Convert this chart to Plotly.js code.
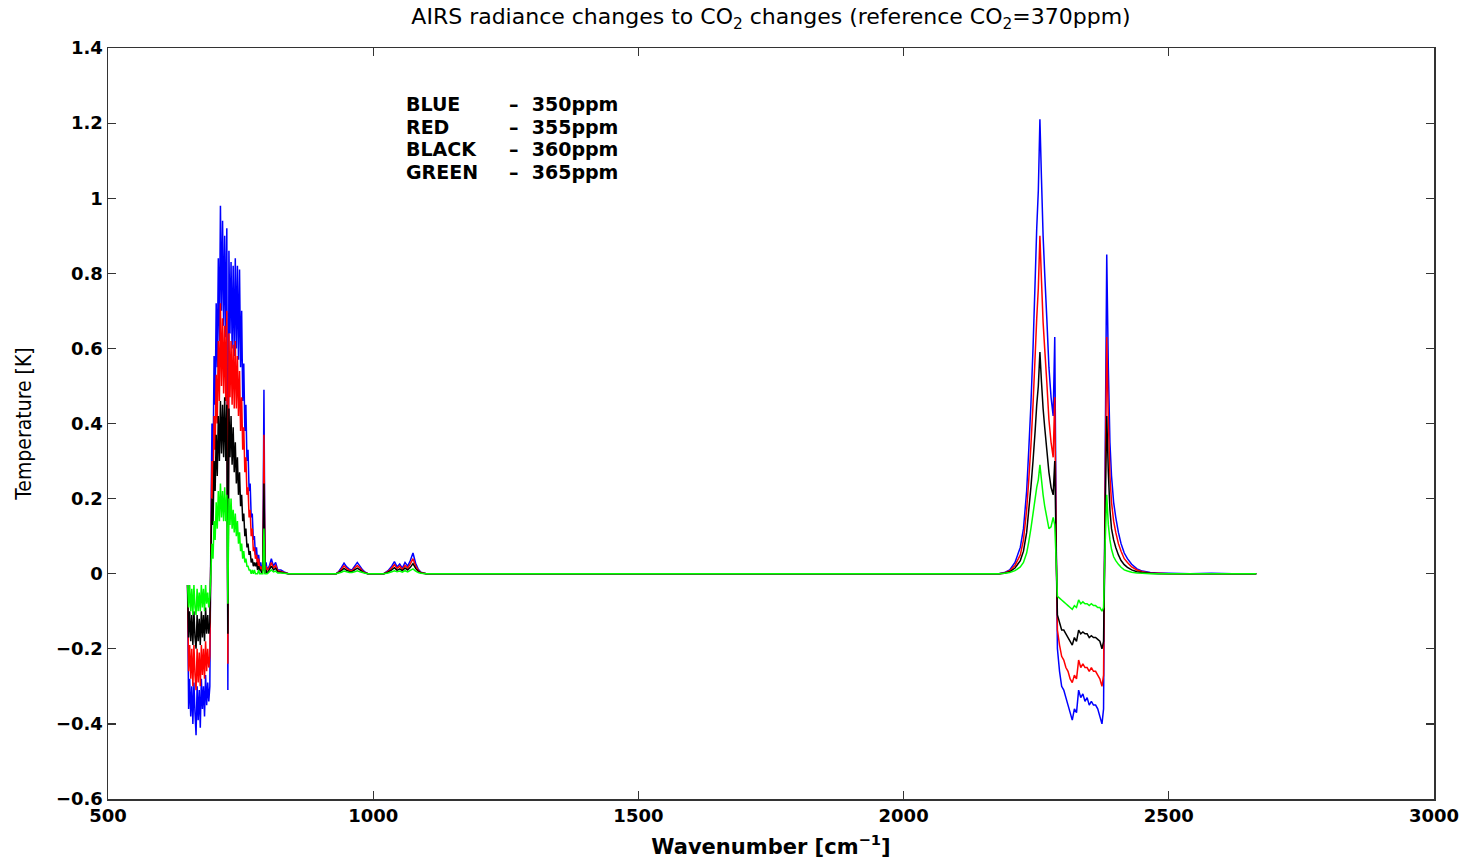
<!DOCTYPE html>
<html>
<head>
<meta charset="utf-8">
<script src="https://cdn.plot.ly/plotly-3.0.1.min.js"></script>
<style>
html,body{margin:0;padding:0;background:#fff;}
#chart{width:1467px;height:863px;}
</style>
</head>
<body>
<div id="chart"></div>
<script>
// ---------- DATA ----------
// Band 1: 650-800 cm-1 (CO2 15 micron band)
const wnBand1 = [650,652,654,656,658,660,662,664,666,668,670,672,674,676,678,680,682,684,686,688,
  690,692,694,696,698,700,702,704,706,708,710,712,714,716,718,720,722,724,726,728,
  730,732,734,736,738,740,742,744,746,748,750,752,754,756,758,760,762,764,766,768,
  770,772,774,776,778,780,782,784,786,788,790,792,794,796,798,800];
const blue350Band1 = [-0.03,-0.36,-0.28,-0.38,-0.30,-0.40,-0.29,-0.37,-0.43,-0.30,-0.39,-0.31,-0.41,-0.28,-0.36,-0.30,-0.38,-0.27,-0.35,-0.29,
  -0.34,-0.30,0.12,0.40,0.28,0.58,0.45,0.72,0.55,0.84,0.62,0.98,0.70,0.94,0.66,0.90,0.63,0.92,-0.31,0.86,
  0.64,0.83,0.60,0.82,0.58,0.84,0.60,0.82,0.57,0.81,0.55,0.70,0.46,0.56,0.38,0.45,0.30,0.33,0.22,0.24,
  0.15,0.16,0.09,0.10,0.05,0.07,0.03,0.05,0.02,0.03,0.01,0.02,0.49,0.01,0.03,0.01];
const red355Band1 = [-0.03,-0.26,-0.19,-0.28,-0.20,-0.30,-0.19,-0.27,-0.31,-0.20,-0.29,-0.21,-0.30,-0.19,-0.27,-0.20,-0.28,-0.18,-0.26,-0.20,
  -0.25,-0.22,0.08,0.30,0.20,0.42,0.33,0.53,0.40,0.62,0.46,0.72,0.50,0.68,0.48,0.66,0.46,0.70,-0.24,0.64,
  0.47,0.62,0.45,0.61,0.44,0.62,0.44,0.58,0.42,0.54,0.38,0.47,0.33,0.39,0.27,0.31,0.21,0.23,0.15,0.17,
  0.10,0.12,0.06,0.07,0.04,0.05,0.02,0.04,0.01,0.02,0.01,0.01,0.37,0.01,0.02,0.01];
const black360Band1 = [-0.03,-0.17,-0.10,-0.18,-0.11,-0.19,-0.10,-0.17,-0.20,-0.11,-0.18,-0.12,-0.19,-0.10,-0.17,-0.11,-0.18,-0.09,-0.16,-0.11,
  -0.16,-0.13,0.05,0.20,0.13,0.30,0.22,0.37,0.26,0.42,0.30,0.46,0.32,0.45,0.31,0.47,0.30,0.45,-0.16,0.44,
  0.31,0.42,0.29,0.39,0.27,0.35,0.24,0.31,0.21,0.27,0.18,0.21,0.14,0.16,0.10,0.12,0.07,0.08,0.05,0.06,
  0.03,0.04,0.02,0.03,0.02,0.03,0.01,0.02,0.01,0.01,0.00,0.01,0.24,0.00,0.01,0.00];
const green365Band1 = [-0.03,-0.09,-0.03,-0.10,-0.04,-0.11,-0.03,-0.09,-0.11,-0.04,-0.10,-0.05,-0.10,-0.03,-0.09,-0.04,-0.10,-0.03,-0.08,-0.05,
  -0.09,-0.06,0.00,0.08,0.04,0.14,0.09,0.19,0.12,0.22,0.14,0.24,0.15,0.22,0.14,0.23,0.14,0.21,-0.08,0.20,
  0.13,0.20,0.12,0.17,0.11,0.16,0.10,0.14,0.08,0.11,0.06,0.08,0.04,0.06,0.03,0.04,0.02,0.02,0.01,0.01,
  0.00,0.01,0.00,0.01,0.00,0.00,0.00,0.01,0.00,0.00,0.00,0.00,0.12,0.00,0.00,0.00];

// Band 2: 800-2170 cm-1 (window with small bumps)
const wnBand2 = [804,808,812,816,820,826,832,840,870,910,
  930,935,940,945,950,955,960,965,970,975,980,985,990,1000,
  1020,1028,1035,1040,1045,1050,1055,1060,1065,1070,1075,1080,1085,1090,1100,
  1150,1500,1900,2100,2170];
const blue350Band2 = [0.02,0.04,0.02,0.03,0.01,0.01,0.005,0,0,0,
  0,0.006,0.016,0.028,0.018,0.012,0.01,0.02,0.03,0.02,0.01,0.004,0,0,
  0,0.008,0.02,0.032,0.018,0.026,0.015,0.03,0.02,0.035,0.055,0.028,0.012,0.004,0,
  0,0,0,0,0];
const red355Band2 = [0.015,0.03,0.015,0.022,0.008,0.006,0.003,0,0,0,
  0,0.004,0.012,0.021,0.014,0.009,0.008,0.015,0.022,0.015,0.007,0.003,0,0,
  0,0.006,0.015,0.024,0.014,0.02,0.011,0.022,0.015,0.026,0.04,0.021,0.009,0.003,0,
  0,0,0,0,0];
const black360Band2 = [0.01,0.02,0.01,0.015,0.005,0.004,0.002,0,0,0,
  0,0.003,0.008,0.014,0.009,0.006,0.005,0.01,0.015,0.01,0.005,0.002,0,0,
  0,0.004,0.01,0.016,0.009,0.013,0.008,0.015,0.01,0.017,0.027,0.014,0.006,0.002,0,
  0,0,0,0,0];
const green365Band2 = [0.005,0.01,0.005,0.007,0.002,0.002,0.001,0,0,0,
  0,0.002,0.004,0.007,0.005,0.003,0.003,0.005,0.008,0.005,0.003,0.001,0,0,
  0,0.002,0.005,0.008,0.005,0.007,0.004,0.008,0.005,0.009,0.013,0.007,0.003,0.001,0,
  0,0,0,0,0];

// Band 3: 2180-2665 cm-1 (CO2 4.3 micron band)
const wnBand3 = [2180,2190,2200,2210,2220,2226,2232,2236,2240,2244,
  2248,2251,2254,2257,2260,2263,2266,2270,2274,2278,
  2282,2285,2288,
  2290,2294,2298,2302,2306,2310,2314,2318,2322,2326,
  2330,2334,2338,2342,2346,2350,2354,2358,2362,2366,
  2370,2374,2377,
  2380,2383,2386,2389,2392,2396,2400,2405,2410,2416,
  2422,2430,2440,2450,2465,2480,2500,2540,2580,2620,2665];
const blue350Band3 = [0,0.003,0.01,0.03,0.07,0.12,0.22,0.33,0.45,0.60,
  0.78,0.92,1.02,1.21,1.05,0.90,0.80,0.68,0.55,0.47,
  0.42,0.63,0.05,
  -0.20,-0.26,-0.30,-0.31,-0.33,-0.35,-0.37,-0.39,-0.36,-0.37,
  -0.31,-0.33,-0.32,-0.34,-0.33,-0.35,-0.34,-0.35,-0.35,-0.36,
  -0.38,-0.40,-0.36,
  0.30,0.85,0.55,0.35,0.26,0.19,0.15,0.11,0.08,0.055,
  0.04,0.025,0.013,0.007,0.003,0.002,0.001,0,0.001,0,0];
const red355Band3 = [0,0.002,0.008,0.022,0.05,0.09,0.17,0.25,0.34,0.45,
  0.58,0.68,0.76,0.90,0.78,0.67,0.60,0.51,0.41,0.35,
  0.31,0.47,0.04,
  -0.15,-0.19,-0.22,-0.23,-0.25,-0.26,-0.28,-0.29,-0.27,-0.28,
  -0.23,-0.25,-0.24,-0.25,-0.25,-0.26,-0.25,-0.26,-0.26,-0.27,
  -0.28,-0.30,-0.27,
  0.22,0.63,0.41,0.26,0.19,0.14,0.11,0.08,0.06,0.04,
  0.03,0.018,0.01,0.005,0.002,0.001,0,0,0,0,0];
const black360Band3 = [0,0.001,0.005,0.015,0.035,0.06,0.11,0.17,0.23,0.30,
  0.38,0.45,0.50,0.59,0.51,0.44,0.39,0.33,0.27,0.23,
  0.21,0.30,0.03,
  -0.11,-0.13,-0.15,-0.15,-0.16,-0.17,-0.18,-0.19,-0.17,-0.18,
  -0.15,-0.16,-0.155,-0.16,-0.16,-0.17,-0.165,-0.17,-0.17,-0.175,
  -0.18,-0.20,-0.18,
  0.15,0.42,0.27,0.17,0.12,0.09,0.07,0.05,0.035,0.024,
  0.017,0.01,0.005,0.003,0.001,0,0,0,0,0,0];
const green365Band3 = [0,0.001,0.003,0.008,0.018,0.03,0.055,0.085,0.12,0.16,
  0.20,0.23,0.25,0.29,0.25,0.21,0.18,0.15,0.12,0.125,
  0.15,0.13,0.02,
  -0.06,-0.065,-0.07,-0.075,-0.08,-0.085,-0.09,-0.095,-0.085,-0.09,
  -0.07,-0.08,-0.075,-0.08,-0.08,-0.085,-0.08,-0.085,-0.085,-0.09,
  -0.09,-0.10,-0.09,
  0.08,0.21,0.13,0.09,0.065,0.045,0.035,0.025,0.017,0.01,
  0.007,0.004,0.002,0.001,0,0,0,0,0,0,0];

const seriesNames = ['350ppm','355ppm','360ppm','365ppm'];
const seriesColors = ['#0000ff','#ff0000','#000000','#00ff00'];
const legendNames = ['BLUE','RED','BLACK','GREEN'];
const legendValues = ['\u2013  350ppm','\u2013  355ppm','\u2013  360ppm','\u2013  365ppm'];
const xTickVals = [500,1000,1500,2000,2500,3000];
const yTickVals = [-0.6,-0.4,-0.2,0,0.2,0.4,0.6,0.8,1,1.2,1.4];

// ---------- BUILD ----------
const wavenumber = wnBand1.concat(wnBand2, wnBand3);
const seriesValues = [
  blue350Band1.concat(blue350Band2, blue350Band3),
  red355Band1.concat(red355Band2, red355Band3),
  black360Band1.concat(black360Band2, black360Band3),
  green365Band1.concat(green365Band2, green365Band3)
];

const traces = seriesValues.map((vals, i) => ({
  type: 'scatter',
  mode: 'lines',
  name: seriesNames[i],
  x: wavenumber,
  y: vals,
  line: {color: seriesColors[i], width: 1.5, simplify: false},
  hoverinfo: 'skip'
}));

const fontFam = 'DejaVu Sans, sans-serif';
const tickFont = {family: fontFam, size: 18, color: '#000', weight: 'bold'};

// legend text block: one annotation per line (names column + values column)
const legendLineY = [0.9254, 0.8948, 0.8655, 0.8349];
const annotations = [];
legendNames.forEach((nm, i) => {
  annotations.push({xref: 'paper', yref: 'paper', x: 0.2232, y: legendLineY[i], xanchor: 'left', yanchor: 'middle',
    showarrow: false, text: nm, font: {family: fontFam, size: 19, color: '#000', weight: 'bold'}});
  annotations.push({xref: 'paper', yref: 'paper', x: 0.3009, y: legendLineY[i], xanchor: 'left', yanchor: 'middle',
    showarrow: false, text: legendValues[i], font: {family: fontFam, size: 19, color: '#000', weight: 'bold'}});
});

const layout = {
  width: 1467,
  height: 863,
  paper_bgcolor: '#ffffff',
  plot_bgcolor: '#ffffff',
  showlegend: false,
  margin: {l: 108, r: 33, t: 48, b: 64},
  title: {
    text: 'AIRS radiance changes to CO<sub>2</sub> changes (reference CO<sub>2</sub>=370ppm)',
    font: {family: fontFam, size: 22, color: '#000'},
    x: 0.5, xref: 'paper', xanchor: 'center',
    y: 0.981, yref: 'container', yanchor: 'middle'
  },
  xaxis: {
    range: [500, 3000],
    tickvals: xTickVals,
    ticks: 'inside', ticklen: 8, tickwidth: 1.2, tickcolor: '#333',
    showline: true, linecolor: '#333', linewidth: 1.5, mirror: 'ticks',
    showgrid: false, zeroline: false,
    tickfont: tickFont,
    title: {text: 'Wavenumber [cm<sup>\u22121</sup>]', font: {family: fontFam, size: 21, color: '#000', weight: 'bold'}, standoff: 14}
  },
  yaxis: {
    range: [-0.6, 1.4],
    tickvals: yTickVals,
    ticks: 'inside', ticklen: 8, tickwidth: 1.2, tickcolor: '#333',
    showline: true, linecolor: '#333', linewidth: 1.5, mirror: 'ticks',
    showgrid: false, zeroline: false,
    tickfont: tickFont,
    title: {text: 'Temperature [K]', font: {family: 'Liberation Sans Narrow, DejaVu Sans Condensed, Liberation Sans, sans-serif', size: 21, color: '#000'}, standoff: 18}
  },
  annotations: annotations
};

Plotly.newPlot('chart', traces, layout, {displayModeBar: false, staticPlot: true});
</script>
</body>
</html>
